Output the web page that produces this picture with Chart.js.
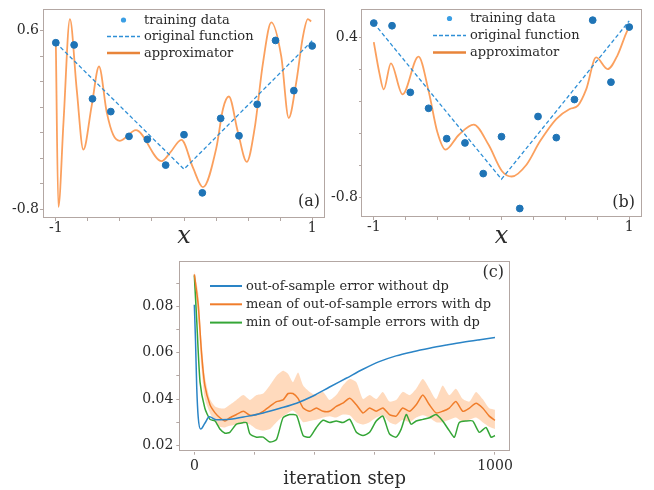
<!DOCTYPE html>
<html lang="en">
<head>
<meta charset="UTF-8">
<title>approximator and dp errors</title>
<script src="https://cdn.jsdelivr.net/npm/chart.js@4.4.0/dist/chart.umd.min.js"></script>
<style>
  body { margin: 0; background: #fff; width: 654px; height: 490px; position: relative; overflow: hidden; }
  .panel { position: absolute; }
</style>
</head>
<body>
<div class="panel" style="left:0;top:0;width:330px;height:252px"><canvas id="chartA"></canvas></div>
<div class="panel" style="left:330px;top:0;width:324px;height:252px"><canvas id="chartB"></canvas></div>
<div class="panel" style="left:130px;top:250px;width:400px;height:240px"><canvas id="chartC"></canvas></div>

<script>
// ---- panels (a) and (b): training data, original function, approximator ----
const trainX = [-1, -0.857, -0.714, -0.571, -0.429, -0.286, -0.143, 0, 0.143, 0.286, 0.429, 0.571, 0.714, 0.857, 1];
const trainA = [0.505, 0.488, 0.066, -0.034, -0.228, -0.251, -0.453, -0.215, -0.670, -0.087, -0.223, 0.023, 0.523, 0.130, 0.480];
const trainB = [0.511, 0.491, -0.011, -0.131, -0.360, -0.392, -0.623, -0.345, -0.886, -0.193, -0.352, -0.065, 0.533, 0.066, 0.481];

const origX = [-1, 0, 1];
const origA = [0.505, -0.485, 0.52];
const origB = [0.511, -0.665, 0.528];

const approxAX = [-1, -0.98, -0.94, -0.89, -0.837, -0.785, -0.72, -0.663, -0.603, -0.552, -0.5, -0.375, -0.175, -0.11, -0.02,
                  0.07, 0.148, 0.252, 0.304, 0.35, 0.42, 0.49, 0.551, 0.616, 0.681, 0.759, 0.817, 0.875, 0.927, 0.966, 0.992];
const approxAY = [0.51, -0.78, -0.115, 0.69, 0.14, -0.332, 0.013, 0.319, -0.038, -0.217, -0.263, -0.179, -0.422, -0.358, -0.255,
                  -0.473, -0.626, -0.32, -0.013, 0.084, -0.192, -0.427, -0.166, 0.345, 0.664, 0.396, -0.084, 0.191, 0.549, 0.69, 0.672];

const approxBX = [-1, -0.956, -0.922, -0.866, -0.775, -0.65, -0.568, -0.503, -0.438, -0.335, -0.218, -0.101, 0.003,
                  0.08, 0.197, 0.3, 0.43, 0.534, 0.598, 0.663, 0.741, 0.831, 0.909, 0.974, 0.995];
const approxBY = [0.368, 0.134, 0.011, 0.208, -0.026, 0.258, -0.013, -0.308, -0.443, -0.332, -0.254, -0.406, -0.603,
                  -0.645, -0.554, -0.382, -0.21, -0.136, -0.111, 0.011, 0.252, 0.164, 0.27, 0.43, 0.474];

const abXTicks = [-1, -0.75, -0.5, -0.25, 0, 0.25, 0.5, 0.75, 1];
const abXLabels = ['-1', '', '', '', '', '', '', '', '1'];
const aYTicks = [-0.8, -0.6, -0.4, -0.2, 0, 0.2, 0.4, 0.6];
const aYLabels = ['-0.8', '', '', '', '', '', '', '0.6'];
const bYTicks = [-0.8, -0.56, -0.32, -0.08, 0.16, 0.4];
const bYLabels = ['-0.8', '', '', '', '', '0.4'];

// ---- panel (c): out-of-sample errors ----
const blueSteps = [0, 4, 8, 13, 21, 35, 50, 74, 118, 175, 229, 285, 340, 395, 450, 505, 561, 615, 671, 727, 782, 840, 893, 950, 1000];
const blueErr   = [0.0808, 0.065, 0.045, 0.032, 0.027, 0.0295, 0.0323, 0.031, 0.0312, 0.0325, 0.034, 0.036, 0.0382, 0.0413,
                   0.0452, 0.049, 0.0529, 0.0562, 0.0587, 0.0605, 0.062, 0.0634, 0.0646, 0.0657, 0.0666];

const meanSteps = [0, 13, 24, 35, 52, 69, 85, 102, 118, 140, 163, 185, 207, 229, 251, 273, 295, 312, 328, 345, 362, 384, 406,
                   428, 450, 472, 494, 517, 539, 561, 583, 605, 627, 649, 671, 693, 716, 738, 760, 782, 804, 826, 848, 870,
                   893, 915, 937, 959, 981, 1000];
const meanErr  = [0.094, 0.0808, 0.0599, 0.0459, 0.0375, 0.034, 0.0319, 0.0305, 0.0319, 0.0333, 0.0347, 0.033, 0.0333, 0.0347,
                  0.0368, 0.0389, 0.0396, 0.0424, 0.0424, 0.0403, 0.0361, 0.0347, 0.0361, 0.0347, 0.0347, 0.0368, 0.0382,
                  0.0403, 0.0375, 0.034, 0.0361, 0.0347, 0.0361, 0.0333, 0.0326, 0.0361, 0.0347, 0.0375, 0.0417, 0.0375,
                  0.034, 0.0347, 0.0361, 0.0389, 0.0347, 0.0361, 0.0382, 0.0361, 0.0326, 0.0308];
const bandHigh = [0.0955, 0.086, 0.0655, 0.050, 0.040, 0.0368, 0.036, 0.036, 0.0375, 0.0396, 0.0417, 0.0396, 0.0417, 0.0424,
                  0.0459, 0.050, 0.0522, 0.0508, 0.0473, 0.0515, 0.0459, 0.0431, 0.0417, 0.0431, 0.0396, 0.0417, 0.0459,
                  0.0487, 0.0473, 0.040, 0.0417, 0.040, 0.0431, 0.0389, 0.0396, 0.0431, 0.0417, 0.0445, 0.0487, 0.0445,
                  0.040, 0.0459, 0.0417, 0.0445, 0.040, 0.0389, 0.0431, 0.040, 0.036, 0.0354];
const bandLow  = [0.090, 0.075, 0.053, 0.040, 0.034, 0.030, 0.028, 0.0277, 0.0284, 0.029, 0.0295, 0.029, 0.027, 0.0263,
                  0.027, 0.030, 0.0326, 0.034, 0.035, 0.033, 0.030, 0.0305, 0.031, 0.032, 0.0326, 0.032, 0.0333, 0.033,
                  0.030, 0.029, 0.030, 0.032, 0.033, 0.030, 0.029, 0.031, 0.030, 0.032, 0.033, 0.032, 0.030, 0.030,
                  0.031, 0.032, 0.030, 0.031, 0.032, 0.030, 0.028, 0.027];

const greenSteps = [0, 8, 19, 35, 52, 69, 85, 102, 118, 140, 163, 174, 185, 207, 229, 251, 273, 295, 317, 340, 362, 384, 406,
                    428, 450, 472, 494, 517, 539, 561, 583, 605, 627, 649, 671, 688, 705, 721, 738, 760, 782, 804, 826, 848,
                    865, 881, 904, 926, 948, 970, 987, 1000];
const greenErr   = [0.0935, 0.0739, 0.0473, 0.036, 0.0312, 0.0305, 0.027, 0.0252, 0.0256, 0.0291, 0.0298, 0.0298, 0.0249,
                    0.0235, 0.0235, 0.0214, 0.0224, 0.0319, 0.0333, 0.0329, 0.0242, 0.0235, 0.0277, 0.0308, 0.0298, 0.0305,
                    0.0298, 0.0312, 0.0256, 0.0242, 0.0256, 0.0305, 0.0326, 0.0249, 0.0235, 0.027, 0.0333, 0.0291, 0.0305,
                    0.0312, 0.0319, 0.0333, 0.0305, 0.0263, 0.0235, 0.0298, 0.0305, 0.0305, 0.0256, 0.0277, 0.0235, 0.0242];

const cXTicks = [0, 200, 400, 600, 800, 1000];
const cXLabels = ['0', '', '', '', '', '1000'];
const cYTicks = [0.02, 0.03, 0.04, 0.05, 0.06, 0.07, 0.08, 0.09];
const cYLabels = ['0.02', '', '0.04', '', '0.06', '', '0.08', ''];

const frameColor = '#b3a7a3';
const textColor = '#2b2b2b';
const serif = "'DejaVu Serif', serif";

const pts = (xs, ys) => xs.map((x, i) => ({ x: x, y: ys[i] }));

// box round the plot area, legend block and panel tag
const framePlugin = {
  id: 'frameBox',
  afterDraw(chart, args, opts) {
    const ctx = chart.ctx;
    const a = chart.chartArea;
    ctx.save();
    ctx.strokeStyle = frameColor;
    ctx.lineWidth = 1;
    ctx.strokeRect(Math.round(a.left) + 0.5, Math.round(a.top) + 0.5,
                   Math.round(a.right - a.left) - 1, Math.round(a.bottom - a.top) - 1);

    ctx.font = opts.legendFont;
    ctx.textBaseline = 'middle';
    ctx.textAlign = 'left';
    opts.items.forEach((it, i) => {
      const ds = chart.data.datasets[it.ds];
      const y = opts.y + i * opts.gap;
      if (it.kind === 'dot') {
        ctx.fillStyle = it.color;
        ctx.beginPath();
        ctx.arc(opts.x + opts.len / 2, y, 2.6, 0, Math.PI * 2);
        ctx.fill();
      } else {
        ctx.strokeStyle = it.color;
        ctx.lineWidth = it.width;
        ctx.setLineDash(it.dash || []);
        ctx.beginPath();
        ctx.moveTo(opts.x, y);
        ctx.lineTo(opts.x + opts.len, y);
        ctx.stroke();
        ctx.setLineDash([]);
      }
      ctx.fillStyle = textColor;
      ctx.fillText(ds.label, opts.x + opts.len + 4, y + 0.5);
    });

    ctx.font = opts.tagFont;
    ctx.textAlign = 'right';
    ctx.fillText(opts.tag, opts.tagX, opts.tagY);
    ctx.restore();
  }
};

function axis(cfg) {
  return {
    type: 'linear',
    min: cfg.min, max: cfg.max,
    afterBuildTicks: s => { s.ticks = cfg.ticks.map(v => ({ value: v })); },
    afterFit: s => { if (cfg.width) s.width = cfg.width; if (cfg.height) s.height = cfg.height; },
    border: { display: false },
    grid: { display: true, drawOnChartArea: false, drawTicks: true, tickLength: cfg.tl, color: frameColor },
    ticks: {
      autoSkip: false, maxRotation: 0, padding: cfg.pad, color: textColor,
      font: { family: serif, size: 14 },
      callback: (v, i) => cfg.labels[i]
    },
    title: cfg.title ? {
      display: true, text: cfg.title, color: textColor,
      font: cfg.titleFont, padding: { top: 0, bottom: cfg.titlePad }
    } : { display: false }
  };
}

function fitPanel(id, train, orig, approxX, approxY, o) {
  return new Chart(id, {
    type: 'scatter',
    data: {
      datasets: [{
        label: 'training data',
        data: pts(trainX, train),
        backgroundColor: '#1f74b6',
        borderColor: '#1f74b6',
        pointRadius: 3.4,
        showLine: false
      }, {
        label: 'original function',
        data: pts(origX, orig),
        showLine: true,
        borderColor: '#2e8fd6',
        borderWidth: 1.3,
        borderDash: [4, 2.5],
        pointRadius: 0,
        tension: 0
      }, {
        label: 'approximator',
        data: pts(approxX, approxY),
        showLine: true,
        borderColor: 'rgba(250,128,40,0.75)',
        borderWidth: 1.8,
        pointRadius: 0,
        cubicInterpolationMode: 'monotone'
      }]
    },
    options: {
      responsive: true,
      maintainAspectRatio: false,
      animation: false,
      layout: { padding: { left: 0, right: o.padRight, top: 5, bottom: 0 } },
      plugins: {
        legend: { display: false },
        tooltip: { enabled: false },
        frameBox: {
          x: o.legX, y: o.legY, gap: o.legGap, len: 33,
          legendFont: '13px ' + serif,
          items: [
            { ds: 0, kind: 'dot', color: '#3a9ee4' },
            { ds: 1, kind: 'line', color: '#2e8fd6', width: 1.5, dash: [4, 2] },
            { ds: 2, kind: 'line', color: '#e8843a', width: 2.4 }
          ],
          tag: o.tag, tagX: o.tagX, tagY: o.tagY, tagFont: '16px ' + serif
        }
      },
      scales: {
        x: axis({ min: -1.1, max: 1.1, ticks: abXTicks, labels: abXLabels, tl: 3, pad: -1, height: o.xHeight,
                  title: 'x', titleFont: { family: serif, size: 24, style: 'italic' }, titlePad: o.titlePad }),
        y: axis({ min: o.yMin, max: o.yMax, ticks: o.yTicks, labels: o.yLabels, tl: o.ytl, pad: 1, width: o.yWidth })
      }
    },
    plugins: [framePlugin]
  });
}

fitPanel('chartA', trainA, origA, approxAX, approxAY, {
  padRight: 4, xHeight: 34, yWidth: 43, yMin: -0.867, yMax: 0.766, yTicks: aYTicks, yLabels: aYLabels, ytl: 3,
  legX: 107, legY: 20, legGap: 16.5, tag: '(a)', tagX: 320, tagY: 202, titlePad: 0.5
});

fitPanel('chartB', trainB, origB, approxBX, approxBY, {
  padRight: 12, xHeight: 35, yWidth: 31, yMin: -0.95, yMax: 0.614, yTicks: bYTicks, yLabels: bYLabels, ytl: 2,
  legX: 103, legY: 18.5, legGap: 17, tag: '(b)', tagX: 305, tagY: 203, titlePad: 1
});

new Chart('chartC', {
  type: 'scatter',
  data: {
    datasets: [{
      label: 'out-of-sample error without dp',
      data: pts(blueSteps, blueErr),
      showLine: true, borderColor: '#2a84c6', borderWidth: 1.5, pointRadius: 0, cubicInterpolationMode: 'monotone'
    }, {
      label: 'mean of out-of-sample errors with dp',
      data: pts(meanSteps, meanErr),
      showLine: true, borderColor: '#f07d2b', borderWidth: 1.5, pointRadius: 0, tension: 0.2
    }, {
      label: 'min of out-of-sample errors with dp',
      data: pts(greenSteps, greenErr),
      showLine: true, borderColor: '#35a637', borderWidth: 1.5, pointRadius: 0, tension: 0.2
    }, {
      label: 'band high',
      data: pts(meanSteps, bandHigh),
      showLine: true, borderColor: 'rgba(0,0,0,0)', borderWidth: 0, pointRadius: 0, tension: 0.2,
      backgroundColor: 'rgba(255,140,50,0.32)', fill: '+1'
    }, {
      label: 'band low',
      data: pts(meanSteps, bandLow),
      showLine: true, borderColor: 'rgba(0,0,0,0)', borderWidth: 0, pointRadius: 0, tension: 0.2
    }]
  },
  options: {
    responsive: true,
    maintainAspectRatio: false,
    animation: false,
    layout: { padding: { left: 0, right: 20, top: 5, bottom: 0 } },
    plugins: {
      legend: { display: false },
      tooltip: { enabled: false },
      frameBox: {
        x: 80, y: 36, gap: 18.3, len: 32,
        legendFont: '13px ' + serif,
        items: [
          { ds: 0, kind: 'line', color: '#2a84c6', width: 2 },
          { ds: 1, kind: 'line', color: '#f07d2b', width: 2 },
          { ds: 2, kind: 'line', color: '#35a637', width: 2 }
        ],
        tag: '(c)', tagX: 374, tagY: 23, tagFont: '16px ' + serif
      }
    },
    scales: {
      x: axis({ min: -50, max: 1050, ticks: cXTicks, labels: cXLabels, tl: 3, pad: 3, height: 38.3,
                title: 'iteration step', titleFont: { family: serif, size: 18 }, titlePad: 0 }),
      y: axis({ min: 0.0172, max: 0.0996, ticks: cYTicks, labels: cYLabels, tl: 3, pad: 3, width: 49.3 })
    }
  },
  plugins: [framePlugin]
});
</script>
</body>
</html>
